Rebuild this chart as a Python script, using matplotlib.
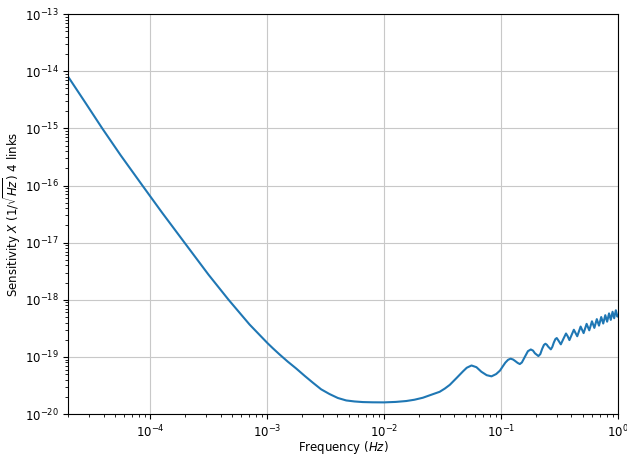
import matplotlib
matplotlib.use("Agg")
import matplotlib.pyplot as plt
import numpy as np

# Frequency (Hz) and sensitivity (1/sqrt(Hz))
freq_low = [2.0e-5, 2.82e-5, 3.9e-5, 5.6e-5, 8.6e-5, 1.26e-4, 1.97e-4, 3.16e-4,
            4.69e-4, 7.08e-4, 1.01e-3, 1.12e-3, 1.27e-3, 1.5e-3, 1.77e-3, 2.1e-3,
            2.46e-3, 2.9e-3, 3.42e-3, 4.03e-3, 4.75e-3, 5.6e-3, 6.6e-3, 8.0e-3,
            1.0e-2, 1.26e-2, 1.55e-2, 1.82e-2, 2.15e-2, 2.51e-2, 2.99e-2, 3.31e-2,
            3.65e-2, 4.17e-2]
sens_low = [7.94e-15, 2.75e-15, 1.0e-15, 3.39e-16, 1.0e-16, 3.4e-17, 1.0e-17, 2.75e-18,
            1.0e-18, 3.7e-19, 1.74e-19, 1.42e-19, 1.12e-19, 8.3e-20, 6.3e-20, 4.65e-20,
            3.55e-20, 2.71e-20, 2.24e-20, 1.91e-20, 1.73e-20, 1.66e-20, 1.62e-20, 1.605e-20,
            1.60e-20, 1.63e-20, 1.69e-20, 1.78e-20, 1.93e-20, 2.16e-20, 2.45e-20, 2.79e-20,
            3.24e-20, 4.27e-20]

freq_high = [0.0475, 0.051, 0.056, 0.0617, 0.068, 0.0755, 0.083, 0.091, 0.098, 0.104,
             0.109, 0.115, 0.121, 0.127, 0.132, 0.139, 0.145, 0.151, 0.16, 0.17,
             0.18, 0.188, 0.195, 0.209, 0.217, 0.225, 0.233, 0.24, 0.247, 0.253,
             0.267, 0.275, 0.283, 0.292, 0.30, 0.312, 0.325, 0.343, 0.36, 0.372,
             0.385, 0.42, 0.449, 0.48, 0.509,
             0.54, 0.569, 0.60, 0.629, 0.66, 0.689, 0.72, 0.749, 0.78, 0.809,
             0.84, 0.869, 0.90, 0.929, 0.96, 0.99, 1.0]
sens_high = [5.62e-20, 6.46e-20, 7.08e-20, 6.61e-20, 5.50e-20, 4.79e-20, 4.57e-20, 5.01e-20,
             5.75e-20, 6.9e-20, 7.94e-20, 8.9e-20, 9.33e-20, 9.0e-20, 8.51e-20, 7.85e-20,
             7.50e-20, 8.0e-20, 1.0e-19, 1.26e-19, 1.35e-19, 1.29e-19, 1.16e-19, 1.035e-19,
             1.12e-19, 1.38e-19, 1.62e-19, 1.70e-19, 1.63e-19, 1.52e-19, 1.355e-19, 1.5e-19,
             1.78e-19, 2.05e-19, 2.14e-19, 1.9e-19, 1.66e-19, 2.1e-19, 2.57e-19, 2.3e-19,
             1.97e-19, 2.99e-19, 2.30e-19, 3.40e-19, 2.61e-19, 3.79e-19, 2.92e-19,
             4.20e-19, 3.22e-19, 4.59e-19, 3.53e-19, 4.99e-19, 3.84e-19, 5.38e-19, 4.14e-19,
             5.78e-19, 4.45e-19, 6.17e-19, 4.75e-19, 6.56e-19, 5.07e-19, 5.37e-19]

freq = np.array(freq_low + freq_high)
sens = np.array(sens_low + sens_high)

plt.rcParams["font.size"] = 8.5
fig = plt.figure(figsize=(6.27, 4.57), dpi=100)
ax = fig.add_axes([0.109, 0.094, 0.8765, 0.875])
ax.loglog(freq, sens, color="#1f77b4", lw=1.5)
ax.set_xlim(2e-5, 1)
ax.set_ylim(1e-20, 1e-13)
ax.grid(True, which="major", color="#c8c8c8", lw=0.8)
ax.set_axisbelow(True)
ax.tick_params(labelsize=8.5)
ax.set_xlabel("Frequency ($Hz$)", fontsize=8.5, labelpad=-1)
ax.set_ylabel("Sensitivity $X$ ($1/\\sqrt{Hz}$) 4 links", fontsize=8.5, labelpad=1)
fig.savefig("out.png", dpi=100)
